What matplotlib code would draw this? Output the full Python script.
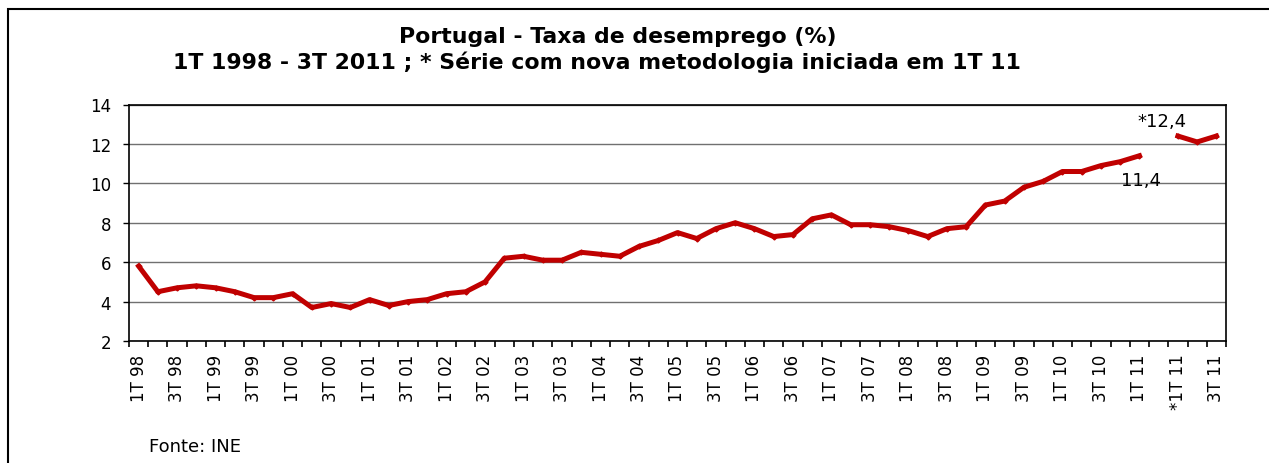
import numpy as np
import matplotlib
matplotlib.use("Agg")
import matplotlib.pyplot as plt
from matplotlib.patches import Rectangle

# Taxa de desemprego (%) - serie antiga, 1T 98 a 1T 11
old_series = [5.8, 4.5, 4.7, 4.8, 4.7, 4.5, 4.2, 4.2,
              4.4, 3.7, 3.9, 3.7, 4.1, 3.8, 4.0, 4.1,
              4.4, 4.5, 5.0, 6.2, 6.3, 6.1, 6.1, 6.5,
              6.4, 6.3, 6.8, 7.1, 7.5, 7.2, 7.7, 8.0,
              7.7, 7.3, 7.4, 8.2, 8.4, 7.9, 7.9, 7.8,
              7.6, 7.3, 7.7, 7.8, 8.9, 9.1, 9.8, 10.1,
              10.6, 10.6, 10.9, 11.1, 11.4]
# serie com nova metodologia: *1T 11, 2T 11, 3T 11
new_series = [12.4, 12.1, 12.4]

tick_labels = ["1T 98", "3T 98", "1T 99", "3T 99", "1T 00", "3T 00", "1T 01",
               "3T 01", "1T 02", "3T 02", "1T 03", "3T 03", "1T 04", "3T 04",
               "1T 05", "3T 05", "1T 06", "3T 06", "1T 07", "3T 07", "1T 08",
               "3T 08", "1T 09", "3T 09", "1T 10", "3T 10", "1T 11", "*1T 11",
               "3T 11"]

n_cat = len(old_series) + 1 + len(new_series)   # one empty slot between series
x_old = np.arange(len(old_series))
x_new = np.arange(len(old_series) + 1, n_cat)

fig = plt.figure(figsize=(12.69, 4.64), dpi=100)
W, H = 1269, 464
ax = fig.add_axes([129 / W, 1 - 342 / H, (1226 - 129) / W, (342 - 105.5) / H])

red = "#C00000"
ax.plot(x_old, old_series, color=red, lw=3.6, marker="D", ms=2.5, zorder=3)
ax.plot(x_new, new_series, color=red, lw=3.6, marker="D", ms=2.5, zorder=3)

ax.set_ylim(2, 14)
ax.set_yticks(np.arange(2, 15, 2))
ax.yaxis.grid(True, color="#707070", lw=1.0)
ax.set_axisbelow(True)
ax.set_xlim(-0.5, n_cat - 0.5)

# ticks between categories, labels on every other category
ax.set_xticks(np.arange(-0.5, n_cat, 1.0))
ax.set_xticklabels([])
ax.set_xticks(np.arange(0, n_cat, 2), minor=True)
ax.set_xticklabels(tick_labels, minor=True, rotation=90, fontsize=12)
ax.tick_params(axis="x", which="major", direction="out", length=4.5, width=1.2)
ax.tick_params(axis="x", which="minor", length=0, pad=9)
ax.tick_params(axis="y", direction="out", length=4.5, width=1, labelsize=12,
               pad=8.5)
for s in ax.spines.values():
    s.set_color("black")
    s.set_linewidth(1.2)

ax.annotate("11,4", (x_old[-1], old_series[-1]), xytext=(-13, -21),
            textcoords="offset points", fontsize=13)
ax.annotate("*12,4", (x_new[0], new_series[0]), xytext=(-29, 7),
            textcoords="offset points", fontsize=13)

fig.text(618 / W, 1 - 37 / H, "Portugal - Taxa de desemprego (%)", ha="center",
         va="center", fontsize=15.8, fontweight="bold")
fig.text(597 / W, 1 - 62 / H,
         "1T 1998 - 3T 2011 ; * Série com nova metodologia iniciada em 1T 11",
         ha="center", va="center", fontsize=15.8, fontweight="bold")
fig.text(149 / W, 1 - 447 / H, "Fonte: INE", fontsize=13, va="center")

fig.patches.append(Rectangle((8 / W, -0.1), 1.2, 1 - 10 / H + 0.1,
                             transform=fig.transFigure, fill=False,
                             edgecolor="black", lw=1.5))

fig.savefig("out.png", dpi=100)
